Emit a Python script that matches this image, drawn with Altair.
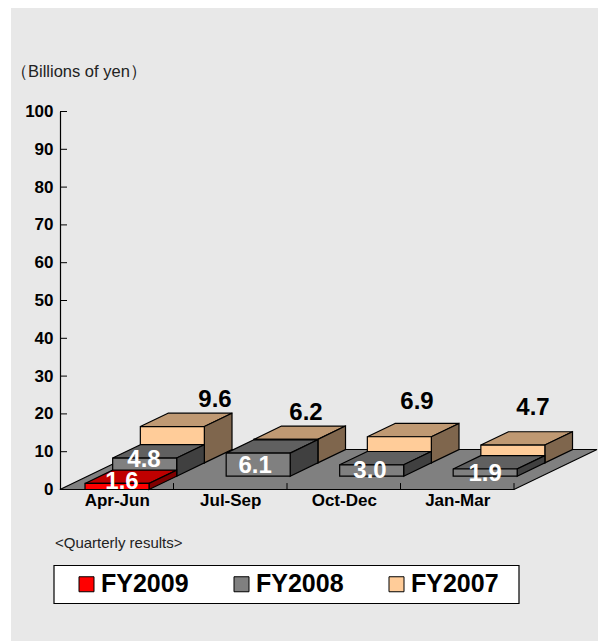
import altair as alt
import pandas as pd

quarters = ["Apr-Jun", "Jul-Sep", "Oct-Dec", "Jan-Mar"]
fy2009 = [1.6, None, None, None]
fy2008 = [4.8, 6.1, 3.0, 1.9]
fy2007 = [9.6, 6.2, 6.9, 4.7]
series_names = ["FY2009", "FY2008", "FY2007"]
y_ticks = list(range(0, 101, 10))

# label nudges from the bar's own anchor, in px (right, up)
nudge_2007 = [(15, 13), (-7.5, 13.4), (-10, 21.7), (-7.5, 23.7)]
nudge_2008 = [(-0.7, 7), (-3, -1.3), (-1.7, -0.5), (0, -1.4)]
nudge_2009 = [(5, 4), None, None, None]

FRONT = {"FY2009": "#ff0000", "FY2008": "#808080", "FY2007": "#ffcc99"}
TOP = {"FY2009": "#bf0000", "FY2008": "#606060", "FY2007": "#bf9973"}
SIDE = {"FY2009": "#800000", "FY2008": "#404040", "FY2007": "#7f664d"}
BG = "#e8e8e8"

PX_X = 113.5      # px per category
PX_Y = 3.78       # px per value unit
PLOT_W = 537
PLOT_H = 378
DX = 27.67 / PX_X   # depth shift per row, category units
DY = 13.33 / PX_Y   # depth shift per row, value units
BAR_L = 25 / PX_X
BAR_W = 64 / PX_X

xs = alt.Scale(domain=[0, PLOT_W / PX_X], nice=False, zero=False)
ys = alt.Scale(domain=[0, 100], nice=False, zero=False)
x_axis = alt.Axis(values=[0.5, 1.5, 2.5, 3.5], title=None, ticks=False, grid=False, domain=False, zindex=1,
                  labelExpr="['Apr-Jun','Jul-Sep','Oct-Dec','Jan-Mar'][floor(datum.value)]",
                  labelFont="Liberation Sans", labelFontWeight="bold", labelFontSize=17,
                  labelColor="black", labelPadding=3, labelFlush=False, labelOverlap=False)
y_axis = alt.Axis(values=y_ticks, title=None, ticks=False, grid=False, domainColor="black", zindex=1,
                  domainWidth=1.2, labelFont="Liberation Sans", labelFontWeight="bold",
                  labelFontSize=17, labelColor="black", labelPadding=7)
X = lambda f="x": alt.X(f"{f}:Q", scale=xs, axis=x_axis)
Y = lambda f="y": alt.Y(f"{f}:Q", scale=ys, axis=y_axis)

rows = {"FY2009": (0, fy2009), "FY2008": (1, fy2008), "FY2007": (2, fy2007)}
line = dict(stroke="black", strokeWidth=1.2)

# floor
floor = pd.DataFrame({"y": [0, 3 * DY], "x": [0, 3 * DX], "x2": [4, 4 + 3 * DX]})
layers = [
    alt.Chart(floor).mark_area(orient="horizontal", color="#808080", **line).encode(
        y=Y(), x=X(), x2="x2:Q"
    )
]

# x axis line and tick marks
base = pd.DataFrame({"x": [0], "x2": [4], "y": [0]})
layers.append(alt.Chart(base).mark_rule(color="black", strokeWidth=1.2).encode(x=X(), x2="x2:Q", y=Y()))
xt = pd.DataFrame({"x": [1, 2, 3, 4], "y": [0] * 4, "y2": [1.7] * 4})
layers.append(alt.Chart(xt).mark_rule(color="black", strokeWidth=1).encode(x=X(), y=Y(), y2="y2:Q"))

# bars, back row first
for name in ["FY2007", "FY2008", "FY2009"]:
    r, vals = rows[name]
    fr, tp, sd = [], [], []
    for i, v in enumerate(vals):
        if v is None:
            continue
        l = i + BAR_L + r * DX
        rr = l + BAR_W
        b = r * DY
        t = b + v
        fr.append(dict(x=l, x2=rr, y=b, y2=t, series=name))
        for k in (0, 1):
            tp.append(dict(id=i, y=t + k * DY, x=l + k * DX, x2=rr + k * DX))
            sd.append(dict(id=i, x=rr + k * DX, y=b + k * DY, y2=t + k * DY))
    layers.append(alt.Chart(pd.DataFrame(tp)).mark_area(orient="horizontal", color=TOP[name], **line).encode(
        y=Y(), x=X(), x2="x2:Q", detail="id:N"))
    layers.append(alt.Chart(pd.DataFrame(sd)).mark_area(color=SIDE[name], **line).encode(
        x=X(), y=Y(), y2="y2:Q", detail="id:N"))
    layers.append(alt.Chart(pd.DataFrame(fr)).mark_rect(**line).encode(
        x=X(), x2="x2:Q", y=Y(), y2="y2:Q",
        color=alt.Color("series:N", scale=alt.Scale(domain=series_names, range=[FRONT[s] for s in series_names]),
                        legend=alt.Legend(orient="none", legendX=14, legendY=460, direction="horizontal", columns=3,
                                          title=None, symbolType="square", symbolSize=225, symbolStrokeColor="black",
                                          symbolStrokeWidth=1, symbolOpacity=1, labelFont="Liberation Sans",
                                          labelFontWeight="bold", labelFontSize=25, labelColor="black",
                                          labelOffset=2, columnPadding=40, labelLimit=200, padding=0))))

# value labels
lab = []
for i, (v, n) in enumerate(zip(fy2007, nudge_2007)):
    lab.append(dict(x=i + BAR_L + BAR_W / 2 + 3 * DX + n[0] / PX_X, y=3 * DY + v + n[1] / PX_Y, t=f"{v:.1f}", c="black"))
for i, (v, n) in enumerate(zip(fy2008, nudge_2008)):
    lab.append(dict(x=i + BAR_L + BAR_W / 2 + DX + n[0] / PX_X, y=DY + v / 2 + n[1] / PX_Y, t=f"{v:.1f}", c="white"))
for i, (v, n) in enumerate(zip(fy2009, nudge_2009)):
    if v is not None:
        lab.append(dict(x=i + BAR_L + BAR_W / 2 + n[0] / PX_X, y=v / 2 + n[1] / PX_Y, t=f"{v:.1f}", c="white"))
labels = pd.DataFrame(lab)
layers.append(alt.Chart(labels).mark_text(font="Liberation Sans", fontWeight="bold", fontSize=24).encode(
    x=X(), y=Y(), text="t:N", color=alt.Color("c:N", scale=None)))

# y axis inward ticks
yt = pd.DataFrame({"y": y_ticks, "x": [0] * 11, "x2": [7 / PX_X] * 11})
layers.append(alt.Chart(yt).mark_rule(color="black", strokeWidth=1).encode(x=X(), x2="x2:Q", y=Y()))

# panel, legend box and free texts
one = pd.DataFrame({"a": [0]})
panel = alt.Chart(one).mark_rect(fill=BG).encode(
    x=alt.value(-49), x2=alt.value(540), y=alt.value(-104), y2=alt.value(530))
box = alt.Chart(one).mark_rect(fill="white", stroke="black", strokeWidth=1.2).encode(
    x=alt.value(-6), x2=alt.value(459), y=alt.value(454), y2=alt.value(492))
unit = alt.Chart(pd.DataFrame({"a": ["（Billions of yen）"]})).mark_text(
    font="Liberation Sans", fontSize=16.5, align="left", baseline="middle", color="#222222").encode(
    x=alt.value(-49), y=alt.value(-40), text="a:N")
qr = alt.Chart(pd.DataFrame({"a": ["<Quarterly results>"]})).mark_text(
    font="Liberation Sans", fontSize=15, align="left", baseline="middle", color="#222222").encode(
    x=alt.value(-5), y=alt.value(431), text="a:N")

chart = alt.layer(panel, box, unit, qr, *layers).properties(
    width=PLOT_W, height=PLOT_H,
    padding={"left": 52, "top": 103.5, "right": 1, "bottom": 151.5},
    autosize=alt.AutoSizeParams(type="none"),
).configure_view(stroke=None)

chart.save("out.html", embed_options={"renderer": "svg", "actions": False})
